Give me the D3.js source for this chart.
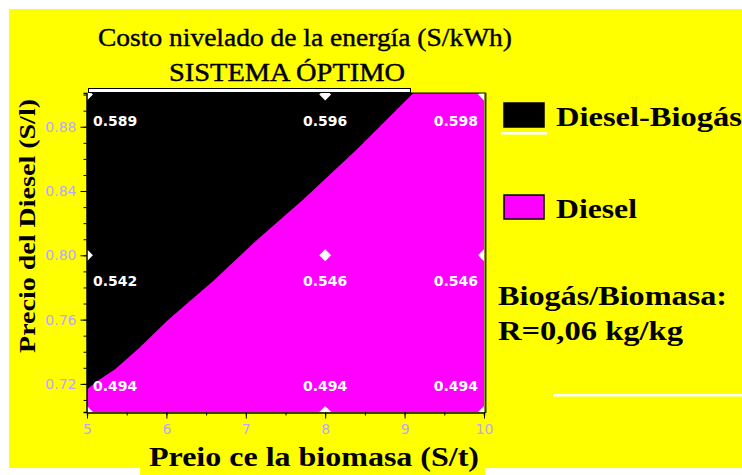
<!DOCTYPE html>
<html><head><meta charset="utf-8">
<script src="https://cdn.jsdelivr.net/npm/d3@7"></script>
<style>
html,body{margin:0;padding:0;background:#fff;}
svg{display:block;}
</style></head>
<body>
<script>
// ---- data ----
const xTicks = [5, 6, 7, 8, 9, 10];
const yTicks = [0.72, 0.76, 0.80, 0.84, 0.88];
const biomassPrice = [5, 8, 10];          // grid x (S/t)
const dieselPrice = [0.90, 0.80, 0.70];   // grid y (S/l)
const costValues = [
  [0.589, 0.596, 0.598],
  [0.542, 0.546, 0.546],
  [0.494, 0.494, 0.494]
];
// boundary between Diesel-Biogás (upper-left) and Diesel (lower-right)
const boundaryX = [5.0, 5.12, 5.35, 5.65, 6.02, 6.6, 7.14, 7.72, 8.4, 9.11];
const boundaryY = [0.7165, 0.7215, 0.729, 0.742, 0.7598, 0.7845, 0.8096, 0.8345, 0.866, 0.901];
const legendLabels = ["Diesel-Biogás", "Diesel"];
const legendColors = ["#000000", "#ff00ff"];
const titleLines = ["Costo nivelado de la energía (S/kWh)", "SISTEMA ÓPTIMO"];
const yTitle = "Precio del Diesel (S/l)";
const xTitle = "Preio ce la biomasa (S/t)";
const noteLines = ["Biogás/Biomasa:", "R=0,06 kg/kg"];

// ---- layout ----
const W = 742, H = 475;
const P = {l: 87, r: 484, t: 93, b: 412};
const svg = d3.select("body").append("svg").attr("width", W).attr("height", H);

svg.append("rect").attr("x", 9).attr("y", 9).attr("width", W - 9).attr("height", 459).attr("fill", "#ffff00");

const x = d3.scaleLinear().domain([5, 10]).range([P.l, P.r]);
const y = d3.scaleLinear().domain([0.7025, 0.901]).range([P.b, P.t]).clamp(true);

svg.append("clipPath").attr("id", "plotclip").append("rect")
  .attr("x", P.l).attr("y", P.t).attr("width", P.r - P.l).attr("height", P.b - P.t);
const plot = svg.append("g").attr("clip-path", "url(#plotclip)");

// Diesel region (whole area), then Diesel-Biogás region on top
plot.append("rect").attr("x", P.l).attr("y", P.t).attr("width", P.r - P.l).attr("height", P.b - P.t)
  .attr("fill", legendColors[1]);
const [yMin, yMax] = y.domain();
const poly = [[4.95, yMax + 0.01], [4.95, boundaryY[0]]]
  .concat(boundaryX.map((bx, i) => [bx, boundaryY[i]]));
poly.push([boundaryX[boundaryX.length - 1], yMax + 0.01]);
plot.append("path")
  .attr("d", d3.line().x(d => x(d[0])).y(d => y(d[1])).curve(d3.curveLinear)(poly))
  .attr("fill", legendColors[0]);

// grid markers (white diamonds, clipped at edges)
const pts = [];
dieselPrice.forEach((dy, i) => biomassPrice.forEach((bx, j) => pts.push({bx, dy, v: costValues[i][j], i, j})));
plot.selectAll("path.mk").data(pts).join("path")
  .attr("class", "mk")
  .attr("transform", d => `translate(${x(d.bx)},${y(d.dy)})`)
  .attr("d", d3.symbol(d3.symbolDiamond2, 90))
  .attr("fill", "#fff");

// value labels
svg.selectAll("text.val").data(pts).join("text")
  .attr("class", "val")
  .attr("x", d => d.bx === x.domain()[0] ? x(d.bx) + 6 : d.bx === x.domain()[1] ? x(d.bx) - 6 : x(d.bx))
  .attr("y", d => d.dy <= yMin ? y(d.dy) - 26 : y(d.dy) + 26)
  .attr("dy", "0.35em")
  .attr("text-anchor", d => d.bx === x.domain()[0] ? "start" : d.bx === x.domain()[1] ? "end" : "middle")
  .attr("font-family", "DejaVu Sans")
  .attr("font-weight", "bold")
  .attr("font-size", 14)
  .attr("fill", "#fff")
  .text(d => d.v.toFixed(3));

// top band artefact
svg.append("rect").attr("x", 88.5).attr("y", 88.5).attr("width", 322).attr("height", 4)
  .attr("fill", "#fff").attr("stroke", "#000").attr("stroke-width", 1);
svg.append("line").attr("x1", 410).attr("x2", P.r + 2).attr("y1", 93).attr("y2", 93).attr("stroke", "#000");
// right border
svg.append("line").attr("x1", P.r + 1.5).attr("x2", P.r + 1.5).attr("y1", P.t).attr("y2", P.b + 1).attr("stroke", "#333").attr("stroke-width", 2);

// axes
const tickColor = "#b8a8ff";
const ya = svg.append("g").attr("transform", `translate(${P.l - 0.5},0)`)
  .call(d3.axisLeft(y).tickValues(d3.range(0.71, 0.905, 0.01)).tickSize(3).tickFormat(""));
ya.select(".domain").attr("stroke", "#000").attr("stroke-width", 1.5);
ya.selectAll(".tick line").attr("stroke", "#000");
const ya2 = svg.append("g").attr("transform", `translate(${P.l - 0.5},0)`)
  .call(d3.axisLeft(y).tickValues(yTicks).tickSize(6).tickPadding(4).tickFormat(d3.format(".2f")));
ya2.select(".domain").remove();
ya2.selectAll(".tick line").attr("stroke", "#000");
ya2.selectAll("text").attr("font-family", "DejaVu Sans").attr("font-size", 14).attr("fill", tickColor);

const xa = svg.append("g").attr("transform", `translate(0,${P.b + 0.5})`)
  .call(d3.axisBottom(x).tickValues(d3.range(5, 10.01, 0.5)).tickSize(3).tickFormat(""));
xa.select(".domain").attr("stroke", "#000").attr("stroke-width", 1.5);
xa.selectAll(".tick line").attr("stroke", "#000");
const xa2 = svg.append("g").attr("transform", `translate(0,${P.b + 0.5})`)
  .call(d3.axisBottom(x).tickValues(xTicks).tickSize(6).tickPadding(6).tickFormat(d3.format("d")));
xa2.select(".domain").remove();
xa2.selectAll(".tick line").attr("stroke", "#000");
xa2.selectAll("text").attr("font-family", "DejaVu Sans").attr("font-size", 14).attr("fill", tickColor);

// titles
const serif = "Liberation Serif, Times New Roman, serif";
svg.append("text").attr("x", 305).attr("y", 46).attr("text-anchor", "middle")
  .attr("font-family", serif).attr("font-weight", "normal").attr("font-size", 26)
  .attr("stroke", "#000").attr("stroke-width", 0.4)
  .attr("textLength", 414).attr("lengthAdjust", "spacingAndGlyphs").text(titleLines[0]);
svg.append("text").attr("x", 287).attr("y", 81).attr("text-anchor", "middle")
  .attr("font-family", serif).attr("font-weight", "normal").attr("font-size", 25)
  .attr("stroke", "#000").attr("stroke-width", 0.4)
  .attr("textLength", 236).attr("lengthAdjust", "spacingAndGlyphs").text(titleLines[1]);

svg.append("text").attr("transform", "translate(35,226) rotate(-90)").attr("text-anchor", "middle")
  .attr("font-family", serif).attr("font-weight", "bold").attr("font-size", 24)
  .attr("textLength", 254).attr("lengthAdjust", "spacingAndGlyphs").text(yTitle);

svg.append("rect").attr("x", 140).attr("y", 444).attr("width", 345).attr("height", 31).attr("fill", "#ffff00");
svg.append("text").attr("x", 314).attr("y", 466).attr("text-anchor", "middle")
  .attr("font-family", serif).attr("font-weight", "bold").attr("font-size", 27)
  .attr("textLength", 330).attr("lengthAdjust", "spacingAndGlyphs").text(xTitle);

// legend
const leg = svg.append("g");
const legY = [103, 195];
const legTL = [186, 81];
legendLabels.forEach((lab, i) => {
  leg.append("rect").attr("x", 504).attr("y", legY[i]).attr("width", 40).attr("height", 24)
    .attr("fill", legendColors[i]).attr("stroke", "#000").attr("stroke-width", 1.5);
  leg.append("text").attr("x", 556).attr("y", legY[i] + 23)
    .attr("font-family", serif).attr("font-weight", "bold").attr("font-size", 27)
    .attr("textLength", legTL[i]).attr("lengthAdjust", "spacingAndGlyphs").text(lab);
});
leg.append("rect").attr("x", 501).attr("y", 132).attr("width", 46).attr("height", 2.5).attr("fill", "#fff");

const noteTL = [229, 185];
noteLines.forEach((t, i) => {
  svg.append("text").attr("x", 498).attr("y", 305 + i * 35)
    .attr("font-family", serif).attr("font-weight", "bold").attr("font-size", 27)
    .attr("textLength", noteTL[i]).attr("lengthAdjust", "spacingAndGlyphs").text(t);
});
svg.append("rect").attr("x", 553).attr("y", 394).attr("width", W - 553).attr("height", 2.5).attr("fill", "#fff");
</script>
</body></html>
